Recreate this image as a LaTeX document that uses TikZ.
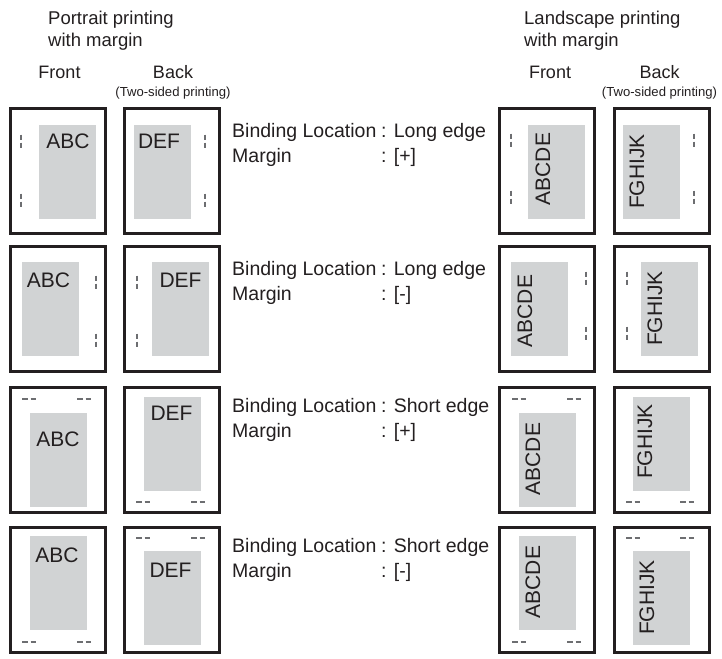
\documentclass[tikz,border=0pt]{standalone}
\usepackage{fontspec}
\setmainfont{Liberation Sans}
\definecolor{ink}{HTML}{231F20}
\definecolor{areagray}{HTML}{D1D3D4}
\definecolor{markgray}{HTML}{6D6E71}
\tikzset{
  pagebox/.style={draw=ink, line width=3pt, fill=white, inner sep=0pt, minimum width=95pt, minimum height=125pt},
  printarea/.style={fill=areagray, inner sep=0pt, minimum width=57pt, minimum height=94pt},
  pagetext/.style={inner sep=0pt, anchor=base, text=ink, font=\fontsize{21}{24}\selectfont},
  rottext/.style={inner sep=0pt, anchor=center, rotate=90, text=ink, font=\fontsize{21}{24}\selectfont},
  vmark/.style={draw=markgray, line width=1.5pt, dash pattern=on 5pt off 3pt},
  hmark/.style={draw=markgray, line width=1.5pt, dash pattern=on 5.5pt off 3pt},
  headtext/.style={inner sep=0pt, anchor=base west, text=ink, font=\fontsize{18.5}{22}\selectfont},
  sidetext/.style={inner sep=0pt, anchor=base, text=ink, font=\fontsize{18}{22}\selectfont},
  smalltext/.style={inner sep=0pt, anchor=base, text=ink, font=\fontsize{13.1}{15}\selectfont},
  infotext/.style={inner sep=0pt, anchor=base west, text=ink, font=\fontsize{19.5}{23}\selectfont},
}
\begin{document}
\begin{tikzpicture}[x=1pt, y=-1pt]
\useasboundingbox[fill=white] (0,0) rectangle (722,658);

% headers
\node[headtext] (hp1) at (48,25) {Portrait printing};
\node[headtext] (hp2) at (48,47) {with margin};
\node[sidetext] (hpf) at (59.5,79) {Front};
\node[sidetext] (hpb) at (173,79) {Back};
\node[smalltext] (hpt) at (173,96) {(Two-sided printing)};
\node[headtext] (hl1) at (524,25) {Landscape printing};
\node[headtext] (hl2) at (524,47) {with margin};
\node[sidetext] (hlf) at (550,79) {Front};
\node[sidetext] (hlb) at (659.5,79) {Back};
\node[smalltext] (hlt) at (659.5,97) {(Two-sided printing)};

% page boxes
\foreach \r/\yc in {1/171,2/308.5,3/450,4/590}{
  \node[pagebox] (pf\r) at (58,\yc) {};
  \node[pagebox] (pb\r) at (172,\yc) {};
  \node[pagebox] (lf\r) at (547,\yc) {};
  \node[pagebox] (lb\r) at (661.5,\yc) {};
}

% printable areas (portrait)
\node[printarea] (apf1) at (67.5,172) {};
\node[printarea] (apb1) at (162.5,172) {};
\node[printarea] (apf2) at (50.5,309) {};
\node[printarea] (apb2) at (180.5,309) {};
\node[printarea] (apf3) at (58.5,460) {};
\node[printarea] (apb3) at (172.5,444) {};
\node[printarea] (apf4) at (58.5,583) {};
\node[printarea] (apb4) at (172.5,598) {};
% printable areas (landscape)
\node[printarea] (alf1) at (556.5,171.5) {};
\node[printarea] (alb1) at (651.5,171.5) {};
\node[printarea] (alf2) at (539.5,309) {};
\node[printarea] (alb2) at (669.5,309) {};
\node[printarea] (alf3) at (547.5,460) {};
\node[printarea] (alb3) at (661.5,444) {};
\node[printarea] (alf4) at (547.5,582.5) {};
\node[printarea] (alb4) at (661.5,597.5) {};

% page texts (portrait)
\node[pagetext] (tpf1) at (68,148) {ABC};
\node[pagetext] (tpb1) at (159,148) {DEF};
\node[pagetext] (tpf2) at (48.5,287) {ABC};
\node[pagetext] (tpb2) at (180.5,287) {DEF};
\node[pagetext] (tpf3) at (58,446) {ABC};
\node[pagetext] (tpb3) at (171.5,420) {DEF};
\node[pagetext] (tpf4) at (57,562) {ABC};
\node[pagetext] (tpb4) at (170.5,577) {DEF};
% page texts (landscape)
\node[rottext] (tlf1) at (543,169) {ABCDE};
\node[rottext] (tlb1) at (637,171.5) {FGHIJK};
\node[rottext] (tlf2) at (525,311) {ABCDE};
\node[rottext] (tlb2) at (655,308.5) {FGHIJK};
\node[rottext] (tlf3) at (533,459) {ABCDE};
\node[rottext] (tlb3) at (645,441.5) {FGHIJK};
\node[rottext] (tlf4) at (533,582) {ABCDE};
\node[rottext] (tlb4) at (647,597.5) {FGHIJK};

% vertical margin marks (long edge)
\foreach \x/\ya/\yb in {21/141/200, 205/141/200, 96/282/340, 137/282/340,
                        511/140/197, 694/140/197, 586/278/333, 627/278/333}{
  \draw[vmark] (\x,\ya-6.5) -- (\x,\ya+6.5);
  \draw[vmark] (\x,\yb-6.5) -- (\x,\yb+6.5);
}
% horizontal margin marks (short edge)
\foreach \y/\xa/\xb in {399/22/77, 502/136/191, 642/22/77, 538/136/191,
                        399/512/567, 502/626/680, 642/512/567, 538/626/680}{
  \draw[hmark] (\xa,\y) -- (\xa+14,\y);
  \draw[hmark] (\xb,\y) -- (\xb+14,\y);
}

% binding info
\foreach \r/\yb/\edge/\mg in {1/137/Long edge/{[+]}, 2/275/Long edge/{[-]}, 3/412/Short edge/{[+]}, 4/552/Short edge/{[-]}}{
  \node[infotext] (bl\r) at (232,\yb) {Binding Location};
  \node[infotext] (bv\r) at (381,\yb) {: \edge};
  \node[infotext] (ml\r) at (232,\yb+25) {Margin};
  \node[infotext] (mv\r) at (381,\yb+25) {: \mg};
}
\end{tikzpicture}
\end{document}
